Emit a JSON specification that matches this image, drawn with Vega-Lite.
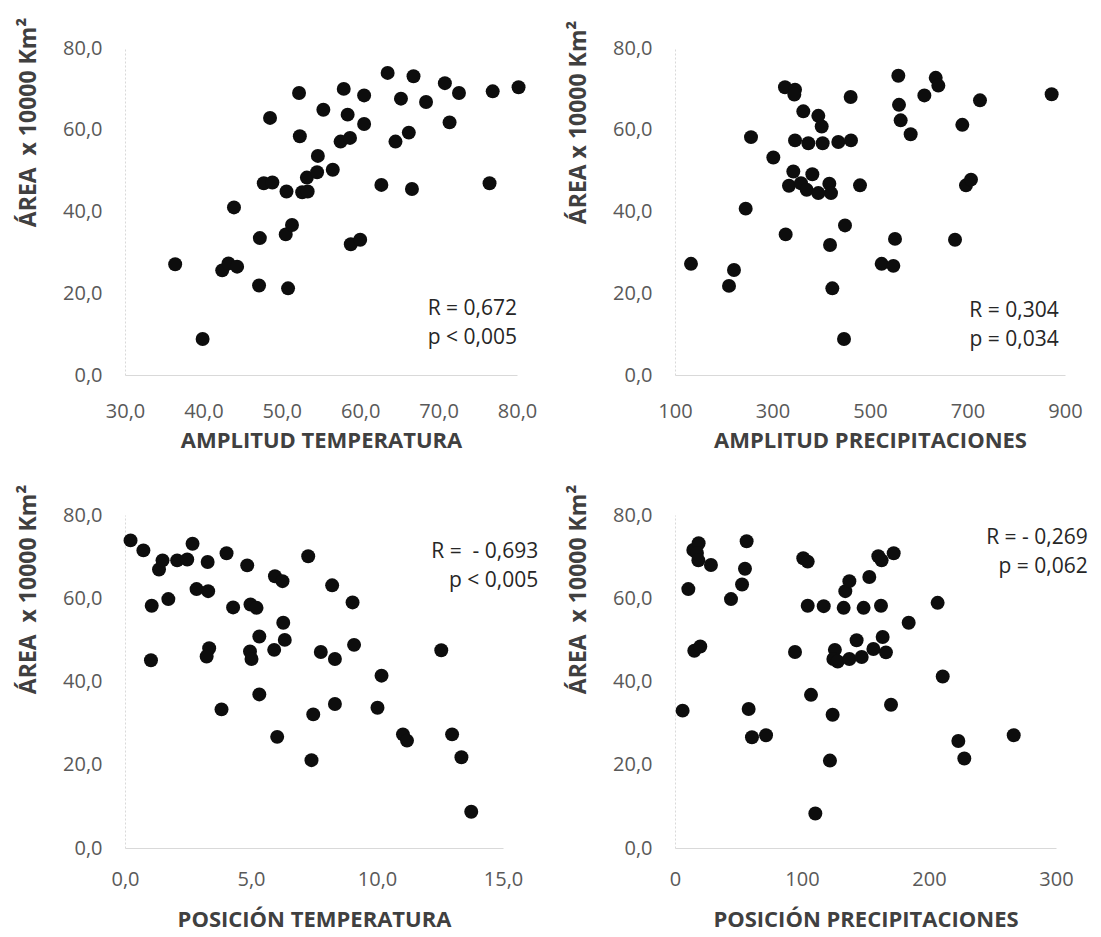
{
  "$schema": "https://vega.github.io/schema/vega-lite/v6.json",
  "background": "white",
  "padding": {"left": 16, "top": 17, "right": 5, "bottom": 5},
  "bounds": "flush",
  "columns": 2,
  "spacing": {"row": 140, "column": 158},
  "config": {
    "view": {"stroke": null},
    "axis": {
      "labelFont": "Open Sans", "labelFontSize": 20, "labelColor": "#595959", "labelFlush": false, "labelOverlap": false,
      "titleFont": "Open Sans", "titleFontWeight": "bold", "titleColor": "#404040",
      "grid": false, "ticks": false, "tickSize": 0, "domainColor": "#d9d9d9", "domainWidth": 1
    },
    "axisX": {"labelPadding": 26, "titleY": 65, "titleBaseline": "middle", "titleFontSize": 22},
    "axisY": {"labelPadding": 23, "titleX": -97, "titleY": 74, "titleBaseline": "middle", "titleFontSize": 23, "domainDash": [2, 2]},
    "text": {"font": "Open Sans", "fontSize": 21, "color": "#262626"}
  },
  "datasets": {
    "tl": [
      {"x":36.4,"y":27.1},{"x":39.9,"y":8.8},{"x":42.4,"y":25.6},{"x":43.2,"y":27.3},{"x":44.3,"y":26.5},{"x":43.9,"y":41.0},{"x":47.1,"y":21.9},{"x":47.2,"y":33.5},{"x":47.7,"y":46.9},{"x":48.8,"y":47.1},{"x":48.5,"y":62.9},{"x":50.6,"y":44.9},{"x":50.5,"y":34.4},{"x":51.3,"y":36.7},{"x":50.8,"y":21.2},{"x":52.2,"y":69.0},{"x":52.3,"y":58.4},{"x":52.6,"y":44.7},{"x":53.3,"y":44.9},{"x":53.2,"y":48.3},{"x":54.5,"y":49.6},{"x":54.6,"y":53.6},{"x":55.3,"y":64.9},{"x":56.5,"y":50.2},{"x":57.5,"y":57.1},{"x":57.9,"y":70.0},{"x":58.4,"y":63.7},{"x":58.7,"y":58.0},{"x":58.8,"y":32.0},{"x":60.0,"y":33.1},{"x":60.5,"y":68.4},{"x":60.5,"y":61.4},{"x":62.7,"y":46.5},{"x":63.5,"y":73.9},{"x":64.5,"y":57.1},{"x":65.2,"y":67.6},{"x":66.2,"y":59.3},{"x":66.6,"y":45.5},{"x":66.8,"y":73.1},{"x":68.4,"y":66.8},{"x":70.8,"y":71.4},{"x":71.4,"y":61.8},{"x":72.6,"y":69.0},{"x":76.5,"y":46.9},{"x":76.9,"y":69.4},{"x":80.2,"y":70.4}
    ],
    "tr": [
      {"x":132.8,"y":27.2},{"x":210.8,"y":21.8},{"x":221,"y":25.7},{"x":245,"y":40.7},{"x":255.9,"y":58.2},{"x":301.7,"y":53.2},{"x":325.6,"y":70.4},{"x":327,"y":34.4},{"x":342.7,"y":49.8},{"x":333.8,"y":46.3},{"x":346.2,"y":57.4},{"x":346.2,"y":69.8},{"x":344.8,"y":68.6},{"x":358.5,"y":46.9},{"x":363.2,"y":64.5},{"x":373.5,"y":56.7},{"x":370.1,"y":45.3},{"x":381.7,"y":49.1},{"x":394,"y":63.4},{"x":400.9,"y":60.8},{"x":394,"y":44.5},{"x":402.9,"y":56.7},{"x":416.6,"y":46.8},{"x":420,"y":44.5},{"x":418,"y":31.8},{"x":422.7,"y":21.2},{"x":435,"y":57.0},{"x":448.7,"y":36.6},{"x":446.7,"y":8.8},{"x":460.3,"y":68.0},{"x":461,"y":57.4},{"x":479.5,"y":46.4},{"x":523.9,"y":27.2},{"x":547.9,"y":26.7},{"x":551.3,"y":33.3},{"x":558.1,"y":73.2},{"x":559.5,"y":66.1},{"x":562.9,"y":62.3},{"x":583.4,"y":58.9},{"x":611.5,"y":68.4},{"x":634.8,"y":72.7},{"x":640.2,"y":70.8},{"x":674.4,"y":33.1},{"x":689.4,"y":61.2},{"x":696.9,"y":46.4},{"x":707.2,"y":47.8},{"x":725.6,"y":67.2},{"x":872.6,"y":68.7}
    ],
    "bl": [
      {"x":0.22,"y":73.9},{"x":0.73,"y":71.5},{"x":1.06,"y":58.2},{"x":1.03,"y":45.1},{"x":1.35,"y":66.9},{"x":1.49,"y":69.1},{"x":1.72,"y":59.8},{"x":2.07,"y":69.1},{"x":2.47,"y":69.3},{"x":2.68,"y":73.1},{"x":2.84,"y":62.2},{"x":3.30,"y":61.7},{"x":3.28,"y":68.7},{"x":3.34,"y":48.0},{"x":3.24,"y":46.0},{"x":3.83,"y":33.3},{"x":4.03,"y":70.8},{"x":4.29,"y":57.8},{"x":4.85,"y":67.9},{"x":4.98,"y":58.5},{"x":5.22,"y":57.7},{"x":4.96,"y":47.2},{"x":5.02,"y":45.4},{"x":5.33,"y":50.8},{"x":5.33,"y":36.9},{"x":5.92,"y":47.6},{"x":5.95,"y":65.3},{"x":6.25,"y":64.1},{"x":6.28,"y":54.1},{"x":6.34,"y":50.0},{"x":6.04,"y":26.7},{"x":7.27,"y":70.1},{"x":7.47,"y":32.1},{"x":7.40,"y":21.1},{"x":7.77,"y":47.1},{"x":8.22,"y":63.1},{"x":8.33,"y":45.4},{"x":8.33,"y":34.6},{"x":9.03,"y":59.0},{"x":9.09,"y":48.8},{"x":10.02,"y":33.7},{"x":10.18,"y":41.4},{"x":11.03,"y":27.3},{"x":11.19,"y":25.8},{"x":12.55,"y":47.5},{"x":12.98,"y":27.3},{"x":13.35,"y":21.8},{"x":13.74,"y":8.7}
    ],
    "br": [
      {"x":6.0,"y":33.0},{"x":10.5,"y":62.2},{"x":15.2,"y":47.4},{"x":19.9,"y":48.4},{"x":14.4,"y":71.6},{"x":18.6,"y":73.2},{"x":17.3,"y":70.9},{"x":18.4,"y":69.1},{"x":28.3,"y":68.0},{"x":44.1,"y":59.8},{"x":52.8,"y":63.3},{"x":55.1,"y":67.1},{"x":56.4,"y":73.7},{"x":58.0,"y":33.4},{"x":60.6,"y":26.6},{"x":71.7,"y":27.1},{"x":94.5,"y":47.1},{"x":101.0,"y":69.6},{"x":104.5,"y":68.8},{"x":104.5,"y":58.2},{"x":107.1,"y":36.8},{"x":110.5,"y":8.3},{"x":117.1,"y":58.1},{"x":122.0,"y":21.0},{"x":124.1,"y":32.0},{"x":125.9,"y":47.6},{"x":124.7,"y":45.4},{"x":128.1,"y":44.8},{"x":132.8,"y":57.7},{"x":134.1,"y":61.7},{"x":137.3,"y":64.1},{"x":137.3,"y":45.4},{"x":143.0,"y":49.9},{"x":147.0,"y":45.9},{"x":148.5,"y":57.7},{"x":153.0,"y":65.1},{"x":156.2,"y":47.8},{"x":160.1,"y":70.1},{"x":162.7,"y":69.1},{"x":162.2,"y":58.2},{"x":163.5,"y":50.7},{"x":166.1,"y":47.0},{"x":170.1,"y":34.4},{"x":172.2,"y":70.8},{"x":184.0,"y":54.1},{"x":206.8,"y":58.9},{"x":210.8,"y":41.2},{"x":223.1,"y":25.7},{"x":227.8,"y":21.5},{"x":266.7,"y":27.1}
    ]
  },
  "concat": [
    {
      "width": 392, "height": 327,
      "layer": [
        {
          "data": {"name": "tl"},
          "mark": {"type": "circle", "size": 195, "color": "#0d0d0d", "opacity": 1},
          "encoding": {
            "x": {"field": "x", "type": "quantitative", "scale": {"domain": [30, 80], "nice": false, "zero": false},
                  "axis": {"title": "AMPLITUD TEMPERATURA", "values": [30, 40, 50, 60, 70, 80], "labelExpr": "replace(format(datum.value, '.1f'), '.', ',')"}},
            "y": {"field": "y", "type": "quantitative", "scale": {"domain": [0, 80], "nice": false},
                  "axis": {"title": "ÁREA\u00a0 x 10000 Km²", "values": [0, 20, 40, 60, 80], "labelExpr": "replace(format(datum.value, '.1f'), '.', ',')"}}
          }
        },
        {
          "data": {"values": [{}]},
          "mark": {"type": "text", "align": "right", "baseline": "middle", "lineHeight": 29},
          "encoding": {
            "x": {"datum": 80, "type": "quantitative"},
            "y": {"datum": 16.2, "type": "quantitative"},
            "text": {"value": ["R = 0,672", "p < 0,005"]}
          }
        }
      ]
    },
    {
      "width": 390, "height": 327,
      "layer": [
        {
          "data": {"name": "tr"},
          "mark": {"type": "circle", "size": 195, "color": "#0d0d0d", "opacity": 1},
          "encoding": {
            "x": {"field": "x", "type": "quantitative", "scale": {"domain": [100, 900], "nice": false, "zero": false},
                  "axis": {"title": "AMPLITUD PRECIPITACIONES", "values": [100, 300, 500, 700, 900], "format": "d"}},
            "y": {"field": "y", "type": "quantitative", "scale": {"domain": [0, 80], "nice": false},
                  "axis": {"title": "ÁREA x 10000 Km²", "values": [0, 20, 40, 60, 80], "labelExpr": "replace(format(datum.value, '.1f'), '.', ',')"}}
          }
        },
        {
          "data": {"values": [{}]},
          "mark": {"type": "text", "align": "right", "baseline": "middle", "lineHeight": 29},
          "encoding": {
            "x": {"datum": 887, "type": "quantitative"},
            "y": {"datum": 15.6, "type": "quantitative"},
            "text": {"value": ["R = 0,304", "p = 0,034"]}
          }
        }
      ]
    },
    {
      "width": 378, "height": 333,
      "layer": [
        {
          "data": {"name": "bl"},
          "mark": {"type": "circle", "size": 195, "color": "#0d0d0d", "opacity": 1},
          "encoding": {
            "x": {"field": "x", "type": "quantitative", "scale": {"domain": [0, 15], "nice": false, "zero": false},
                  "axis": {"title": "POSICIÓN TEMPERATURA", "values": [0, 5, 10, 15], "titleY": 71, "labelPadding": 21, "labelExpr": "replace(format(datum.value, '.1f'), '.', ',')"}},
            "y": {"field": "y", "type": "quantitative", "scale": {"domain": [0, 80], "nice": false},
                  "axis": {"title": "ÁREA\u00a0 x 10000 Km²", "values": [0, 20, 40, 60, 80], "labelExpr": "replace(format(datum.value, '.1f'), '.', ',')"}}
          }
        },
        {
          "data": {"values": [{}]},
          "mark": {"type": "text", "align": "right", "baseline": "middle", "lineHeight": 29},
          "encoding": {
            "x": {"datum": 16.4, "type": "quantitative"},
            "y": {"datum": 71.1, "type": "quantitative"},
            "text": {"value": ["R =\u00a0 - 0,693", "p < 0,005"]}
          }
        }
      ]
    },
    {
      "width": 381, "height": 333,
      "layer": [
        {
          "data": {"name": "br"},
          "mark": {"type": "circle", "size": 195, "color": "#0d0d0d", "opacity": 1},
          "encoding": {
            "x": {"field": "x", "type": "quantitative", "scale": {"domain": [0, 300], "nice": false, "zero": false},
                  "axis": {"title": "POSICIÓN PRECIPITACIONES", "values": [0, 100, 200, 300], "titleY": 71, "labelPadding": 21, "format": "d"}},
            "y": {"field": "y", "type": "quantitative", "scale": {"domain": [0, 80], "nice": false},
                  "axis": {"title": "ÁREA\u00a0 x 10000 Km²", "values": [0, 20, 40, 60, 80], "labelExpr": "replace(format(datum.value, '.1f'), '.', ',')"}}
          }
        },
        {
          "data": {"values": [{}]},
          "mark": {"type": "text", "align": "right", "baseline": "middle", "lineHeight": 29},
          "encoding": {
            "x": {"datum": 325, "type": "quantitative"},
            "y": {"datum": 74.5, "type": "quantitative"},
            "text": {"value": ["R = - 0,269", "p = 0,062"]}
          }
        }
      ]
    }
  ]
}
